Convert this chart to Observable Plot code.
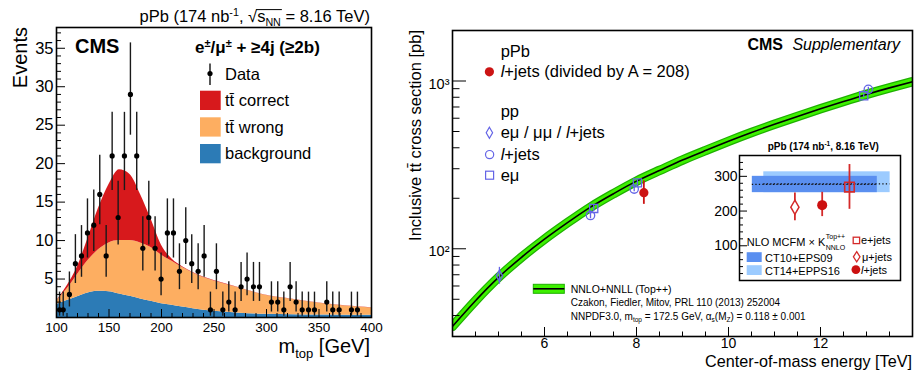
<!DOCTYPE html>
<html><head><meta charset="utf-8">
<script src="https://cdn.jsdelivr.net/npm/d3@7"></script>
<script src="https://cdn.jsdelivr.net/npm/@observablehq/plot@0.6"></script>
<style>
body{margin:0;background:#fff;}
#root{position:relative;width:915px;height:371px;overflow:hidden;background:#fff;}
</style></head><body><div id="root"></div>
<script>
const FONT = '"Liberation Sans", Arial, Helvetica, sans-serif';

// ---------------- Left panel: m_top distribution ----------------
const mGrid = [100,110,120,130,140,150,160,170,180,190,200,210,220,230,240,250,275,300,325,350,375,400];
const bkgEvents = [1.7,2.2,2.7,3.2,3.4,3.35,3.05,2.75,2.4,2.1,1.8,1.6,1.35,1.15,0.95,0.8,0.55,0.42,0.36,0.33,0.3,0.28];
const ttWrongEvents = [0.4,1.5,2.9,4.2,5.4,6.35,6.95,7.25,7.3,7.0,6.3,5.7,5.15,4.65,4.25,3.95,3.25,2.43,1.99,1.52,1.2,0.97];
const ttCorrectEvents = [0.05,0.4,1.0,2.9,5.4,7.6,9.2,8.6,6.3,3.7,1.3,0.3,0.1,0.05,0.05,0.05,0.03,0.03,0.03,0.03,0.03,0.03];
const compOrder = ["background","tt wrong","tt correct"];
const compColors = ["#2c7bb6","#fdae61","#d7191c"];

const mData = [102.9,106.4,112.3,118,123.8,129.5,135.5,141.2,147.3,153,158.7,164.7,170.4,176.4,182.2,187.9,193.9,199.6,205.6,211.4,217.1,223.1,228.8,234.9,240.6,246.6,252.3,258.4,264.1,270.1,275.8,281.5,287.6,293.3,304.7,310.7,316.5,322.5,328.2,334,340,345.7,357.4,363.1,369.2,380.9,386.6];
const nData = [1,1,3,7,8,11,12,16,8,21,13,21,29,21,9,13,9,5,11,11,6,10,7,6,8,1,6,1,2,1,4,5,4,4,2,2,1,4,2,1,1,1,2,1,1,1,1];
const nLo = [0.17,0.17,1.37,4.42,5.23,7.73,8.58,12.06,5.23,16.5,9.44,16.5,23.7,16.5,6.06,9.44,6.06,2.84,7.73,7.73,3.62,6.89,4.42,3.62,5.23,0.17,3.62,0.17,0.71,0.17,2.09,2.84,2.09,2.09,0.71,0.71,0.17,2.09,0.71,0.17,0.17,0.17,0.71,0.17,0.17,0.17,0.17];
const nHi = [3.3,3.3,5.92,10.77,11.95,15.42,16.56,21.09,11.95,26.67,17.7,26.67,35.7,26.67,13.11,17.7,13.11,8.38,15.42,15.42,9.58,14.27,10.77,9.58,11.95,3.3,9.58,3.3,4.64,3.3,7.16,8.38,7.16,7.16,4.64,4.64,3.3,7.16,4.64,3.3,3.3,3.3,4.64,3.3,3.3,3.3,3.3];
const leftYTicks = [5,10,15,20,25,30,35];
const leftXTicks = [100,150,200,250,300,350,400];

// ---------------- Right panel: cross section vs energy ----------------
const sqrtS = [4,4.5,5,5.5,6,6.5,7,7.5,8,8.5,9,9.5,10,10.5,11,11.5,12,12.5,13,13.5,14];
const sigmaNNLO = [34.5,49,67.5,89,114,143,177,213,253,293,338,385,437,493,552,615,683,755,832,910,990];
const ppEnergy = [5.02,7.0,7.07,7.95,8.02,12.94,13.04];
const ppSigma = [69,158,174,227,247,816,892];
const ppLo = [61.5,151,167,219,238,795,866];
const ppHi = [77.5,165,181,235,256,838,918];
const ppSymbol = ["diamond","circle","square","circle","square","square","circle"];
const pPbEnergy = [8.16];
const pPbSigma = [216];
const pPbLo = [184];
const pPbHi = [254];
const rightXTicks = [6,8,10,12];
const rightYTicks = [100,1000];
const rightYTickLabels = ["10²","10³"];

// ---------------- Inset ----------------
const insetChannel = ["μ+jets","l+jets","e+jets"];
const insetPos = [2.03,3.03,4.03];
const insetSigma = [211,217,269];
const insetLo = [172,184,205];
const insetHi = [252,254,334];
const insetSymbol = ["diamond","circle","square"];
const bandName = ["CT14+EPPS16","CT10+EPS09"];
const bandX1 = [0.89,0.47];
const bandX2 = [5.52,5.05];
const bandLo = [253,253];
const bandHi = [313,300];
const bandCentral = [278,277];
const bandColor = ["#9ccbff","#5a8ff0"];
const insetYTicks = [100,200,300];

// ---------- build tables ----------
const compRows = [];
mGrid.forEach((m,i) => {
  compRows.push({m, comp: "background", v: bkgEvents[i]});
  compRows.push({m, comp: "tt wrong", v: ttWrongEvents[i]});
  compRows.push({m, comp: "tt correct", v: ttCorrectEvents[i]});
});
const dataRows = mData.map((m,i) => ({m, n: nData[i], lo: nLo[i], hi: nHi[i]}));
const curveRows = sqrtS.map((e,i) => ({e, s: sigmaNNLO[i]}));
const ppRows = ppEnergy.map((e,i) => ({e, s: ppSigma[i], lo: ppLo[i], hi: ppHi[i], sym: ppSymbol[i]}));
const pPbRows = pPbEnergy.map((e,i) => ({e, s: pPbSigma[i], lo: pPbLo[i], hi: pPbHi[i]}));
const insetRows = insetChannel.map((c,i) => ({c, x: insetPos[i], s: insetSigma[i], lo: insetLo[i], hi: insetHi[i], sym: insetSymbol[i]}));
const bandRows = bandName.map((b,i) => ({b, x1: bandX1[i], x2: bandX2[i], lo: bandLo[i], hi: bandHi[i], c: bandCentral[i], col: bandColor[i]}));

const root = document.getElementById("root");
function place(svg, left, top) {
  svg.style.position = "absolute";
  svg.style.left = left + "px";
  svg.style.top = top + "px";
  root.appendChild(svg);
}
const baseStyle = {background: "none", fontFamily: FONT, color: "black", overflow: "visible"};
const tickY = (vals, len, fw, sw=1) => Plot.ruleY(vals, {y: d => d, insetRight: fw - len, stroke: "black", strokeWidth: sw});
const tickX = (vals, len, fh, sw=1) => Plot.ruleX(vals, {x: d => d, insetTop: fh - len, stroke: "black", strokeWidth: sw});

// ---------- left plot ----------
const L = {w: 380, h: 371, ml: 56, mr: 9, mt: 27, mb: 54};
const LFW = L.w - L.ml - L.mr, LFH = L.h - L.mt - L.mb;
const leftYMinor = d3.range(1, 38).filter(v => v % 5 !== 0);
const leftXMinor = d3.range(110, 400, 10).filter(v => v % 50 !== 0);
const leftPlot = Plot.plot({
  width: L.w, height: L.h, marginLeft: L.ml, marginRight: L.mr, marginTop: L.mt, marginBottom: L.mb,
  style: {...baseStyle, fontSize: "16.5px"},
  x: {domain: [100, 400]},
  y: {domain: [0, 37.7]},
  color: {domain: compOrder, range: compColors},
  marks: [
    Plot.areaY(compRows, {x: "m", y: "v", z: "comp", fill: "comp", order: compOrder, curve: "monotone-x"}),
    Plot.ruleX(dataRows, {x: "m", y1: "lo", y2: "hi", stroke: "#1a1a1a", strokeWidth: 1.4}),
    Plot.dot(dataRows, {x: "m", y: "n", r: 2.6, fill: "black", stroke: "none"}),
    tickY(leftYTicks, 9, LFW), tickY(leftYMinor, 5, LFW),
    tickX(leftXTicks.slice(1, -1), 8, LFH), tickX(leftXMinor, 4, LFH),
    Plot.axisY({ticks: leftYTicks, tickSize: 0, tickPadding: 3, fontSize: 16.5, label: null}),
    Plot.axisX({ticks: leftXTicks, tickSize: 0, tickPadding: 5, fontSize: 13.5, label: null}),
    Plot.frame({stroke: "black", strokeWidth: 1.6})
  ]
});
place(leftPlot, 0, 0);

// ---------- right plot ----------
const R = {w: 515, h: 371, ml: 52, mr: 3, mt: 30, mb: 35};
const RFW = R.w - R.ml - R.mr, RFH = R.h - R.mt - R.mb;
const rightYMinor = [40,50,60,70,80,90,200,300,400,500,600,700,800,900];
const rightXMinor = d3.range(4.5, 14, 0.5).filter(v => v % 2 !== 0);
const pen = {stroke: "#6464e6", fill: "none", strokeWidth: 1.3};
const rightPlot = Plot.plot({
  width: R.w, height: R.h, marginLeft: R.ml, marginRight: R.mr, marginTop: R.mt, marginBottom: R.mb,
  style: {...baseStyle, fontSize: "14.5px"},
  x: {domain: [4, 14]},
  y: {type: "log", domain: [30, 2000]},
  marks: [
    Plot.line(curveRows, {x: "e", y: "s", stroke: "#1eb000", strokeWidth: 9.5, curve: "natural", clip: true}),
    Plot.line(curveRows, {x: "e", y: "s", stroke: "#3ef000", strokeWidth: 7, curve: "natural", clip: true}),
    Plot.line(curveRows, {x: "e", y: "s", stroke: "black", strokeWidth: 1.6, curve: "natural", clip: true}),
    Plot.ruleX(ppRows, {x: "e", y1: "lo", y2: "hi", stroke: "#6464e6", strokeWidth: 1.3}),
    Plot.dot(ppRows.filter(d => d.sym === "diamond"), {x: "e", y: "s", symbol: "diamond", r: 3.4, ...pen}),
    Plot.dot(ppRows.filter(d => d.sym === "circle"), {x: "e", y: "s", symbol: "circle", r: 4.2, ...pen}),
    Plot.dot(ppRows.filter(d => d.sym === "square"), {x: "e", y: "s", symbol: "square", r: 4.6, ...pen}),
    Plot.ruleX(pPbRows, {x: "e", y1: "lo", y2: "hi", stroke: "#cc1414", strokeWidth: 1.8}),
    Plot.dot(pPbRows, {x: "e", y: "s", r: 4.6, fill: "#cc1414", stroke: "none"}),
    tickY(rightYTicks, 14, RFW), tickY(rightYMinor, 7.5, RFW),
    tickX(rightXTicks, 9, RFH), tickX(rightXMinor, 4.5, RFH),
    Plot.axisY({ticks: rightYTicks, tickFormat: d => rightYTickLabels[rightYTicks.indexOf(d)], tickSize: 0, tickPadding: 3, dy: 3, fontSize: 14.5, label: null}),
    Plot.axisX({ticks: rightXTicks, tickSize: 0, tickPadding: 2, fontSize: 14, label: null}),
    Plot.frame({stroke: "black", strokeWidth: 1.6})
  ]
});
place(rightPlot, 400, 0);

// ---------- inset plot ----------
const I = {w: 215, h: 150, ml: 39, mr: 15, mt: 20, mb: 5};
const IFW = I.w - I.ml - I.mr, IFH = I.h - I.mt - I.mb;
const insetYMinor = d3.range(20, 360, 20).filter(v => v % 100 !== 0);
const red = "#d42a2a";
const insetPlot = Plot.plot({
  width: I.w, height: I.h, marginLeft: I.ml, marginRight: I.mr, marginTop: I.mt, marginBottom: I.mb,
  style: {...baseStyle, fontSize: "14px"},
  x: {domain: [0, 5.9], axis: null},
  y: {domain: [0, 360]},
  marks: [
    Plot.rect(bandRows, {x1: "x1", x2: "x2", y1: "lo", y2: "hi", fill: "col"}),
    Plot.ruleY(bandRows, {y: "c", x1: "x1", x2: "x2", stroke: "#111", strokeWidth: 1.3, strokeDasharray: "1.3,2.2"}),
    Plot.ruleX(insetRows, {x: "x", y1: "lo", y2: "hi", stroke: red, strokeWidth: 1.8}),
    Plot.dot(insetRows.filter(d => d.sym === "diamond"), {x: "x", y: "s", symbol: "diamond", r: 4.3, stroke: red, fill: "white", strokeWidth: 1.5}),
    Plot.dot(insetRows.filter(d => d.sym === "circle"), {x: "x", y: "s", r: 5, fill: "#cc1010", stroke: "none"}),
    Plot.dot(insetRows.filter(d => d.sym === "square"), {x: "x", y: "s", symbol: "square", r: 5.4, stroke: red, fill: "none", strokeWidth: 1.6}),
    tickY(insetYTicks, 8, IFW), tickY(insetYMinor, 4, IFW),
    Plot.axisY({ticks: insetYTicks, tickSize: 0, tickPadding: 2, fontSize: 14, label: null}),
    Plot.frame({stroke: "black", strokeWidth: 1.5})
  ]
});
place(insetPlot, 700, 135);

// ---------- text / legend overlay ----------
const ov = d3.select(root).append("svg")
  .attr("width", 915).attr("height", 371)
  .style("position", "absolute").style("left", "0px").style("top", "0px")
  .style("font-family", FONT).style("overflow", "visible");

function rich(x, y, parts, {size = 16.5, weight = "normal", anchor = "start", transform = null, fill = "black"} = {}) {
  const t = ov.append("text").attr("x", x).attr("y", y).attr("font-size", size)
    .attr("font-weight", weight).attr("text-anchor", anchor).attr("fill", fill);
  if (transform) t.attr("transform", transform);
  let cur = 0;
  for (const p of parts) {
    const q = typeof p === "string" ? {t: p} : p;
    let target = 0, fs = size;
    if (q.sup) { target = -0.38 * size; fs = 0.65 * size; }
    if (q.sub) { target = 0.25 * size; fs = 0.65 * size; }
    const ts = t.append("tspan").attr("dy", target - cur).attr("font-size", fs).text(q.t);
    if (q.i) ts.attr("font-style", "italic");
    if (q.b) ts.attr("font-weight", "bold");
    if (q.dx) ts.attr("dx", q.dx);
    cur = target;
  }
  return t;
}
const TT = "tt\u0304";

// left panel texts
const title = rich(370, 22, ["pPb (174 nb", {t: "-1", sup: 1}, ", \u221A", "s", {t: "NN", sub: 1}, " = 8.16 TeV)"], {anchor: "end"});
{
  const n = title.node();
  const x1 = n.getStartPositionOfChar(16).x, x2 = n.getEndPositionOfChar(18).x;
  ov.append("line").attr("x1", x1 - 1).attr("x2", x2 + 1).attr("y1", 9.6).attr("y2", 9.6).attr("stroke", "black").attr("stroke-width", 1);
}
rich(75, 52.5, ["CMS"], {size: 20, weight: "bold"});
rich(195, 53, ["e", {t: "±", sup: 1}, "/μ", {t: "±", sup: 1}, " + ≥4j (≥2b)"], {size: 17, weight: "bold"});
ov.append("line").attr("x1", 210).attr("x2", 210).attr("y1", 63.5).attr("y2", 85).attr("stroke", "#111").attr("stroke-width", 1.4);
ov.append("circle").attr("cx", 210).attr("cy", 73.5).attr("r", 2.6).attr("fill", "black");
rich(225, 79.5, ["Data"]);
[[90.7, compColors[2], TT + " correct"], [117.3, compColors[1], TT + " wrong"], [144, compColors[0], "background"]].forEach(([y, c, s]) => {
  ov.append("rect").attr("x", 200).attr("y", y).attr("width", 20.7).attr("height", 19.3).attr("fill", c);
  rich(225, y + 15.3, [s]);
});
rich(370, 353, ["m", {t: "top", sub: 1}, " [GeV]"], {size: 20, anchor: "end"});
rich(0, 0, ["Events"], {size: 20, anchor: "end", transform: "translate(26.5,27) rotate(-90)"});

// right panel texts
rich(900, 50, [{t: "CMS", b: 1}, {t: " Supplementary", i: 1, dx: 5}], {size: 16, anchor: "end"});
rich(500.7, 57, ["pPb"]);
ov.append("circle").attr("cx", 489.4).attr("cy", 71.8).attr("r", 4.6).attr("fill", "#cc1414");
rich(500.7, 77, [{t: "l", i: 1}, "+jets (divided by A = 208)"]);
rich(500.7, 117, ["pp"]);
const blue = "#6464e6";
ov.append("path").attr("d", "M489.4,127.2L492.6,132.8L489.4,138.4L486.2,132.8Z").attr("fill", "none").attr("stroke", blue).attr("stroke-width", 1.2);
rich(500.7, 138, ["eμ / μμ / ", {t: "l", i: 1}, "+jets"]);
ov.append("circle").attr("cx", 489.6).attr("cy", 154.6).attr("r", 4.1).attr("fill", "none").attr("stroke", blue).attr("stroke-width", 1.2);
rich(500.7, 159.5, [{t: "l", i: 1}, "+jets"]);
ov.append("rect").attr("x", 485.6).attr("y", 171.2).attr("width", 8).attr("height", 8).attr("fill", "none").attr("stroke", blue).attr("stroke-width", 1.2);
rich(500.7, 180.5, ["eμ"]);
rich(0, 0, ["Inclusive " + TT + " cross section [pb]"], {anchor: "end", transform: "translate(420.5,30) rotate(-90)"});
rich(912, 366.5, ["Center-of-mass energy [TeV]"], {anchor: "end", size: 16.2});

// theory legend
ov.append("rect").attr("x", 533.3).attr("y", 284.3).attr("width", 31).attr("height", 9).attr("fill", "#3ef000").attr("stroke", "#1eb000").attr("stroke-width", 1);
ov.append("line").attr("x1", 533.3).attr("x2", 564.3).attr("y1", 288.8).attr("y2", 288.8).attr("stroke", "black").attr("stroke-width", 1.6);
rich(570.7, 292.5, ["NNLO+NNLL (Top++)"], {size: 10.5});
rich(570.7, 306, ["Czakon, Fiedler, Mitov, PRL 110 (2013) 252004"], {size: 10});
rich(570.7, 319.5, ["NNPDF3.0, m", {t: "top", sub: 1}, " = 172.5 GeV, α", {t: "s", sub: 1}, "(M", {t: "Z", sub: 1}, ") = 0.118 ± 0.001"], {size: 10});

// inset texts
rich(823.3, 150, ["pPb (174 nb", {t: "-1", sup: 1}, ", 8.16 TeV)"], {size: 10, weight: "bold", anchor: "middle"});
const kText = rich(746.7, 246, ["NLO MCFM × K"], {size: 11});
const kEnd = 746.7 + kText.node().getComputedTextLength();
ov.append("text").attr("x", kEnd + 0.5).attr("y", 238.5).attr("font-size", 7).text("Top++");
ov.append("text").attr("x", kEnd + 0.5).attr("y", 249.5).attr("font-size", 7).text("NNLO");
ov.append("rect").attr("x", 746.7).attr("y", 252.2).attr("width", 15).attr("height", 9.8).attr("fill", bandColor[1]);
rich(765, 261.5, ["CT10+EPS09"], {size: 11});
ov.append("rect").attr("x", 746.7).attr("y", 265.2).attr("width", 15).attr("height", 9.8).attr("fill", bandColor[0]);
rich(765, 274.5, ["CT14+EPPS16"], {size: 11});
ov.append("rect").attr("x", 853.2).attr("y", 237.2).attr("width", 6.4).attr("height", 6.4).attr("fill", "none").attr("stroke", red).attr("stroke-width", 1.3);
rich(861, 244, ["e+jets"], {size: 11});
ov.append("path").attr("d", "M856.7,251.7L860,256.8L856.7,261.9L853.4,256.8Z").attr("fill", "none").attr("stroke", red).attr("stroke-width", 1.3);
rich(862, 260.7, ["μ+jets"], {size: 11});
ov.append("circle").attr("cx", 855.9).attr("cy", 269.6).attr("r", 4.4).attr("fill", "#cc1010");
rich(861, 273.6, [{t: "l", i: 1}, "+jets"], {size: 11});
</script></body></html>
